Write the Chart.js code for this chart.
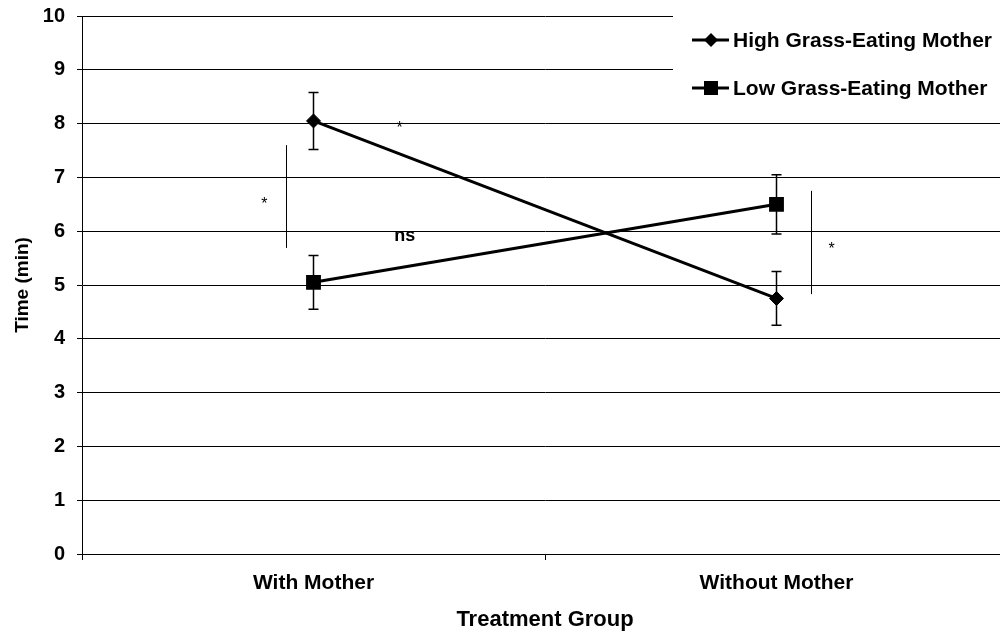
<!DOCTYPE html>
<html>
<head>
<meta charset="utf-8">
<script src="https://cdn.jsdelivr.net/npm/chart.js@4.4.0/dist/chart.umd.min.js"></script>
<style>
    html, body { margin: 0; padding: 0; background: #fff; overflow: hidden; }
    #wrap { width: 1000px; height: 631px; overflow: hidden; position: relative; }
    #chart { position: absolute; left: 0; top: 0; }
</style>
</head>
<body>
<div id="wrap"><canvas id="chart" width="1008" height="631"></canvas></div>
<script>
const groups = ['With Mother', 'Without Mother'];
const seriesNames = ['High Grass-Eating Mother', 'Low Grass-Eating Mother'];
const highValues = [8.05, 4.75];
const highErrors = [0.53, 0.5];
const lowValues = [5.05, 6.5];
const lowErrors = [0.5, 0.55];
const yTicks = [0, 1, 2, 3, 4, 5, 6, 7, 8, 9, 10];

// significance marks: [x in category units, y in minutes, text, font]
const marks = [
    [0.186, 7.9, '*', '16px "Liberation Sans", Arial, sans-serif'],
    [-0.106, 6.5, '*', '16px "Liberation Sans", Arial, sans-serif'],
    [0.197, 5.91, 'ns', 'bold 18px "Liberation Sans", Arial, sans-serif'],
    [1.119, 5.66, '*', '16px "Liberation Sans", Arial, sans-serif']
];
// bracket lines: [x, yFrom, yTo]
const brackets = [
    [-0.06, 5.69, 7.6],
    [1.074, 4.83, 6.75]
];

const FONT = '"Liberation Sans", Arial, Helvetica, sans-serif';

function noPadding(scale) {
    scale.paddingTop = 0;
    scale.paddingBottom = 0;
    scale.paddingLeft = 0;
    scale.paddingRight = 0;
}

const errorBars = {
    id: 'errorBars',
    afterDatasetsDraw(chart) {
        const ctx = chart.ctx;
        const x = chart.scales.x;
        const y = chart.scales.y;
        const sets = [[highValues, highErrors], [lowValues, lowErrors]];
        ctx.save();
        ctx.strokeStyle = '#000';
        ctx.lineWidth = 1.5;
        sets.forEach(([vals, errs]) => {
            vals.forEach((v, i) => {
                const px = x.getPixelForValue(i);
                const top = y.getPixelForValue(v + errs[i]);
                const bot = y.getPixelForValue(v - errs[i]);
                ctx.beginPath();
                ctx.moveTo(px, top); ctx.lineTo(px, bot);
                ctx.moveTo(px - 5, top); ctx.lineTo(px + 5, top);
                ctx.moveTo(px - 5, bot); ctx.lineTo(px + 5, bot);
                ctx.stroke();
            });
        });

        ctx.lineWidth = 1;
        brackets.forEach(([bx, y0, y1]) => {
            const px = Math.round(x.getPixelForValue(bx)) + 0.5;
            ctx.beginPath();
            ctx.moveTo(px, y.getPixelForValue(y0));
            ctx.lineTo(px, y.getPixelForValue(y1));
            ctx.stroke();
        });

        ctx.fillStyle = '#000';
        ctx.textAlign = 'center';
        ctx.textBaseline = 'middle';
        marks.forEach(([mx, my, text, font]) => {
            ctx.font = font;
            ctx.fillText(text, x.getPixelForValue(mx), y.getPixelForValue(my));
        });
        ctx.restore();
    }
};

function drawMarker(ctx, style, cx, cy) {
    ctx.beginPath();
    if (style === 'rectRot') {
        ctx.moveTo(cx, cy - 7); ctx.lineTo(cx + 7, cy);
        ctx.lineTo(cx, cy + 7); ctx.lineTo(cx - 7, cy);
        ctx.closePath();
    } else {
        ctx.rect(cx - 7, cy - 7, 14, 14);
    }
    ctx.fill();
}

const sideLegend = {
    id: 'sideLegend',
    afterDraw(chart) {
        const ctx = chart.ctx;
        const styles = ['rectRot', 'rect'];
        const left = 673;
        ctx.save();
        ctx.fillStyle = '#fff';
        ctx.fillRect(left, 0, chart.width - left, 112);
        ctx.fillStyle = '#000';
        ctx.strokeStyle = '#000';
        ctx.lineWidth = 3;
        ctx.font = 'bold 21px ' + FONT;
        ctx.textBaseline = 'middle';
        seriesNames.forEach((name, i) => {
            const cy = 40 + i * 48;
            ctx.beginPath();
            ctx.moveTo(692, cy); ctx.lineTo(729, cy);
            ctx.stroke();
            drawMarker(ctx, styles[i], 711, cy);
            ctx.fillText(name, 733, cy + 1);
        });
        ctx.restore();
    }
};

new Chart(document.getElementById('chart'), {
    type: 'line',
    data: {
        labels: groups,
        datasets: [
            {
                label: seriesNames[0],
                data: highValues,
                borderColor: '#000',
                backgroundColor: '#000',
                borderWidth: 3,
                pointStyle: 'rectRot',
                pointRadius: 7,
                pointBorderWidth: 1,
                tension: 0
            },
            {
                label: seriesNames[1],
                data: lowValues,
                borderColor: '#000',
                backgroundColor: '#000',
                borderWidth: 3,
                pointStyle: 'rect',
                pointRadius: 10.5,
                pointBorderWidth: 0,
                tension: 0
            }
        ]
    },
    options: {
        responsive: false,
        animation: false,
        devicePixelRatio: 1,
        layout: { autoPadding: false, padding: { top: 16, right: 0, left: 0, bottom: 0 } },
        plugins: {
            legend: { display: false },
            tooltip: { enabled: false }
        },
        scales: {
            x: {
                type: 'category',
                offset: true,
                grid: {
                    offset: true,
                    drawOnChartArea: false,
                    drawTicks: true,
                    tickLength: 6,
                    color: '#000'
                },
                border: { color: '#000', width: 1 },
                ticks: {
                    color: '#000',
                    padding: 11,
                    maxRotation: 0,
                    font: { family: FONT, size: 21, weight: 'bold' }
                },
                title: {
                    display: true,
                    text: 'Treatment Group',
                    color: '#000',
                    padding: { top: 0, bottom: -2 },
                    font: { family: FONT, size: 22, weight: 'bold' }
                },
                afterFit(scale) {
                    scale.height = 77;
                    noPadding(scale);
                }
            },
            y: {
                min: 0,
                max: 10,
                afterBuildTicks(scale) { scale.ticks = yTicks.map(v => ({ value: v })); },
                grid: {
                    color: '#000',
                    lineWidth: 1,
                    tickLength: 5
                },
                border: { color: '#000', width: 1 },
                ticks: {
                    color: '#000',
                    padding: 12,
                    font: { family: FONT, size: 20, weight: 'bold' }
                },
                title: {
                    display: true,
                    text: 'Time (min)',
                    color: '#000',
                    padding: { top: 11, bottom: 0 },
                    font: { family: FONT, size: 19, weight: 'bold' }
                },
                afterFit(scale) {
                    scale.width = 82;
                    noPadding(scale);
                }
            }
        }
    },
    plugins: [errorBars, sideLegend]
});
</script>
</body>
</html>
